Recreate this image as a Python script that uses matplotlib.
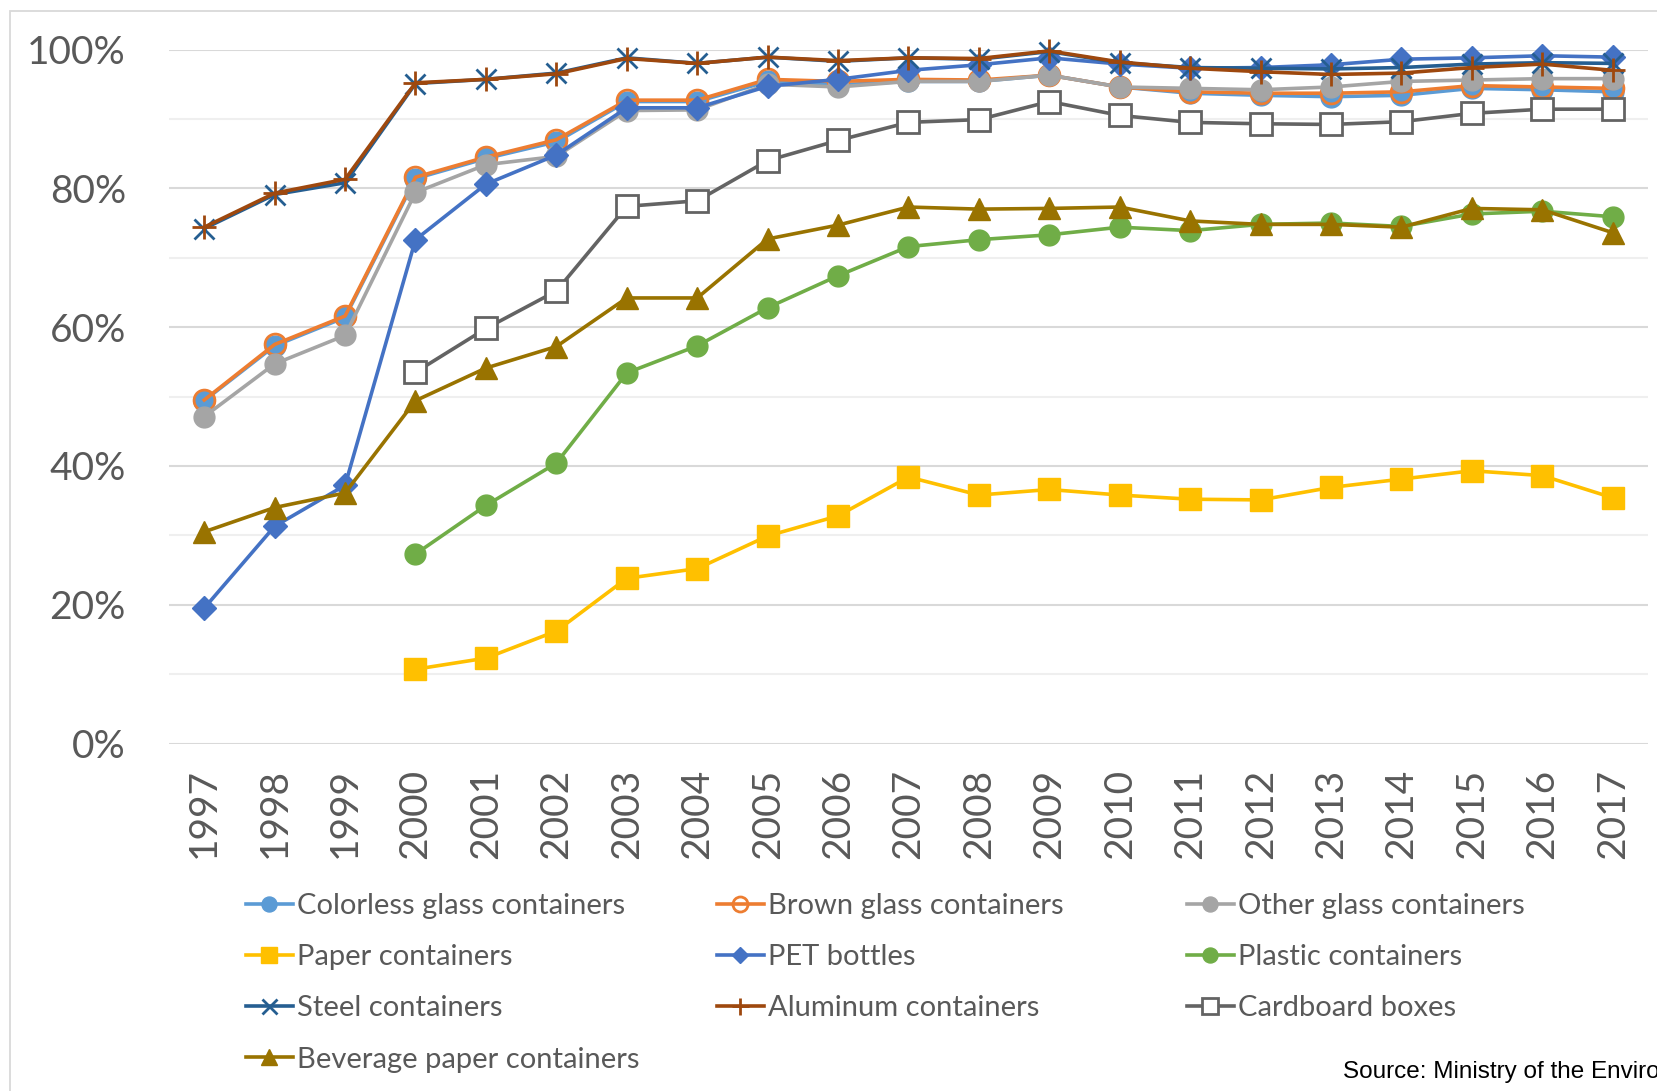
import numpy as np
import matplotlib.pyplot as plt
from matplotlib.patches import Rectangle
from matplotlib.ticker import FixedLocator

nan = np.nan
years = [str(y) for y in range(1997, 2018)]

# recovery / collection rates (%)
colorless_glass = [49.4, 57.3, 61.4, 81.4, 84.3, 86.7, 92.5, 92.5, 95.4, 94.9, 95.4, 95.4,
                   96.3, 94.6, 93.7, 93.4, 93.2, 93.4, 94.4, 94.2, 93.9]
brown_glass = [49.5, 57.5, 61.6, 81.6, 84.5, 87.0, 92.7, 92.7, 95.7, 95.4, 95.7, 95.6,
               96.3, 94.6, 93.9, 93.7, 93.7, 93.9, 94.8, 94.6, 94.4]
other_glass = [47.1, 54.7, 58.8, 79.4, 83.4, 84.6, 91.2, 91.3, 95.0, 94.6, 95.4, 95.4,
               96.3, 94.6, 94.4, 94.2, 94.6, 95.4, 95.6, 95.8, 95.8]
paper = [nan, nan, nan, 10.7, 12.3, 16.2, 23.8, 25.2, 29.9, 32.8, 38.4, 35.8,
         36.6, 35.8, 35.2, 35.1, 36.9, 38.1, 39.3, 38.6, 35.4]
pet = [19.5, 31.3, 37.2, 72.6, 80.6, 84.8, 91.6, 91.6, 94.7, 95.7, 97.0, 97.8,
       98.8, 97.9, 97.3, 97.4, 97.8, 98.6, 98.8, 99.1, 98.9]
plastic = [nan, nan, nan, 27.3, 34.3, 40.4, 53.4, 57.3, 62.8, 67.4, 71.6, 72.6,
           73.3, 74.4, 73.9, 74.8, 75.0, 74.5, 76.3, 76.7, 75.9]
steel = [74.2, 79.1, 80.8, 95.1, 95.7, 96.6, 98.8, 98.0, 98.9, 98.3, 98.8, 98.6,
         99.7, 98.1, 97.4, 97.3, 97.2, 97.4, 97.9, 98.1, 98.0]
aluminum = [74.4, 79.3, 81.3, 95.2, 95.7, 96.5, 98.7, 98.0, 98.9, 98.4, 98.8, 98.7,
            99.8, 98.2, 97.3, 96.8, 96.4, 96.6, 97.4, 97.9, 97.0]
cardboard = [nan, nan, nan, 53.5, 59.8, 65.2, 77.4, 78.2, 84.0, 86.9, 89.5, 89.9,
             92.5, 90.5, 89.5, 89.3, 89.2, 89.6, 90.8, 91.4, 91.4]
beverage_paper = [30.5, 34.0, 36.1, 49.4, 54.1, 57.2, 64.2, 64.2, 72.7, 74.7, 77.3, 77.0,
                  77.1, 77.3, 75.3, 74.8, 74.8, 74.4, 77.1, 76.9, 73.6]

series = [
    ("Colorless glass containers", colorless_glass, "#5B9BD5", "o", "#5B9BD5"),
    ("Brown glass containers", brown_glass, "#ED7D31", "o", "none"),
    ("Other glass containers", other_glass, "#A5A5A5", "o", "#A5A5A5"),
    ("Paper containers", paper, "#FFC000", "s", "#FFC000"),
    ("PET bottles", pet, "#4472C4", "D", "#4472C4"),
    ("Plastic containers", plastic, "#70AD47", "o", "#70AD47"),
    ("Steel containers", steel, "#255E91", "x", "#255E91"),
    ("Aluminum containers", aluminum, "#9E480E", "+", "#9E480E"),
    ("Cardboard boxes", cardboard, "#636363", "s", "white"),
    ("Beverage paper containers", beverage_paper, "#997300", "^", "#997300"),
]

plt.rcParams['font.family'] = ['Lato', 'DejaVu Sans']
W, H = 1658, 1091
fig = plt.figure(figsize=(W / 100, H / 100), dpi=100)

# light chart-area frame
fig.patches.append(Rectangle((10 / W, -0.05), 1.2, 1 - 11 / H + 0.05, transform=fig.transFigure,
                             fill=False, edgecolor="#D9D9D9", linewidth=1.3))

ax = fig.add_axes([169 / W, 1 - 743.5 / H, (1648 - 169) / W, (743.5 - 49.5) / H])
x = np.arange(len(years))

sizes = {"o": 15, "s": 15.5, "D": 12, "x": 15, "+": 17, "^": 15.5}
handles = {}
for label, vals, color, marker, face in series:
    ln, = ax.plot(x, np.array(vals) / 100, color=color, linewidth=2.6, marker=marker,
                  markersize=sizes[marker], markerfacecolor=face, markeredgecolor=color,
                  markeredgewidth=2.0 if marker in "x+" or face in ("none", "white") else 1.0,
                  clip_on=False, label=label, zorder=3)
    handles[label] = ln

ax.set_xlim(-0.5, len(years) - 0.5)
ax.set_ylim(0, 1)
ax.set_xticks(x)
ax.set_xticklabels(years, rotation=90)
ax.yaxis.set_major_locator(FixedLocator([0, 0.2, 0.4, 0.6, 0.8, 1.0]))
ax.set_yticklabels(["0%", "20%", "40%", "60%", "80%", "100%"])
ax.tick_params(axis="both", length=0, labelsize=28, labelcolor="#595959")
ax.tick_params(axis="y", pad=31)
ax.tick_params(axis="x", pad=18)
for s in ax.spines.values():
    s.set_visible(False)

# gridlines: darker every 20%, lighter in between
for v in np.arange(0, 1.01, 0.1):
    major = round(v * 10) % 2 == 0
    ax.axhline(v, color="#D9D9D9" if major else "#EFEFEF", linewidth=1.5, zorder=1)

# legend laid out in three columns
columns = [
    (246, ["Colorless glass containers", "Paper containers", "Steel containers",
           "Beverage paper containers"]),
    (717, ["Brown glass containers", "PET bottles", "Aluminum containers"]),
    (1187, ["Other glass containers", "Plastic containers", "Cardboard boxes"]),
]
for x0, labels in columns:
    fig.legend([handles[l] for l in labels], labels, loc="upper left",
               bbox_to_anchor=(x0 / W, 1 - 893 / H), frameon=False, fontsize=21,
               labelcolor="#595959", handlelength=1.6, handletextpad=0.15,
               labelspacing=0.865, borderpad=0, borderaxespad=0, markerscale=0.72)

fig.text(1343 / W, 1 - 1078 / H, "Source: Ministry of the Environment", ha="left",
         va="baseline", fontsize=17.5, color="black",
         family=["Liberation Sans Narrow", "Liberation Sans"])

fig.savefig("out.png", dpi=100)
